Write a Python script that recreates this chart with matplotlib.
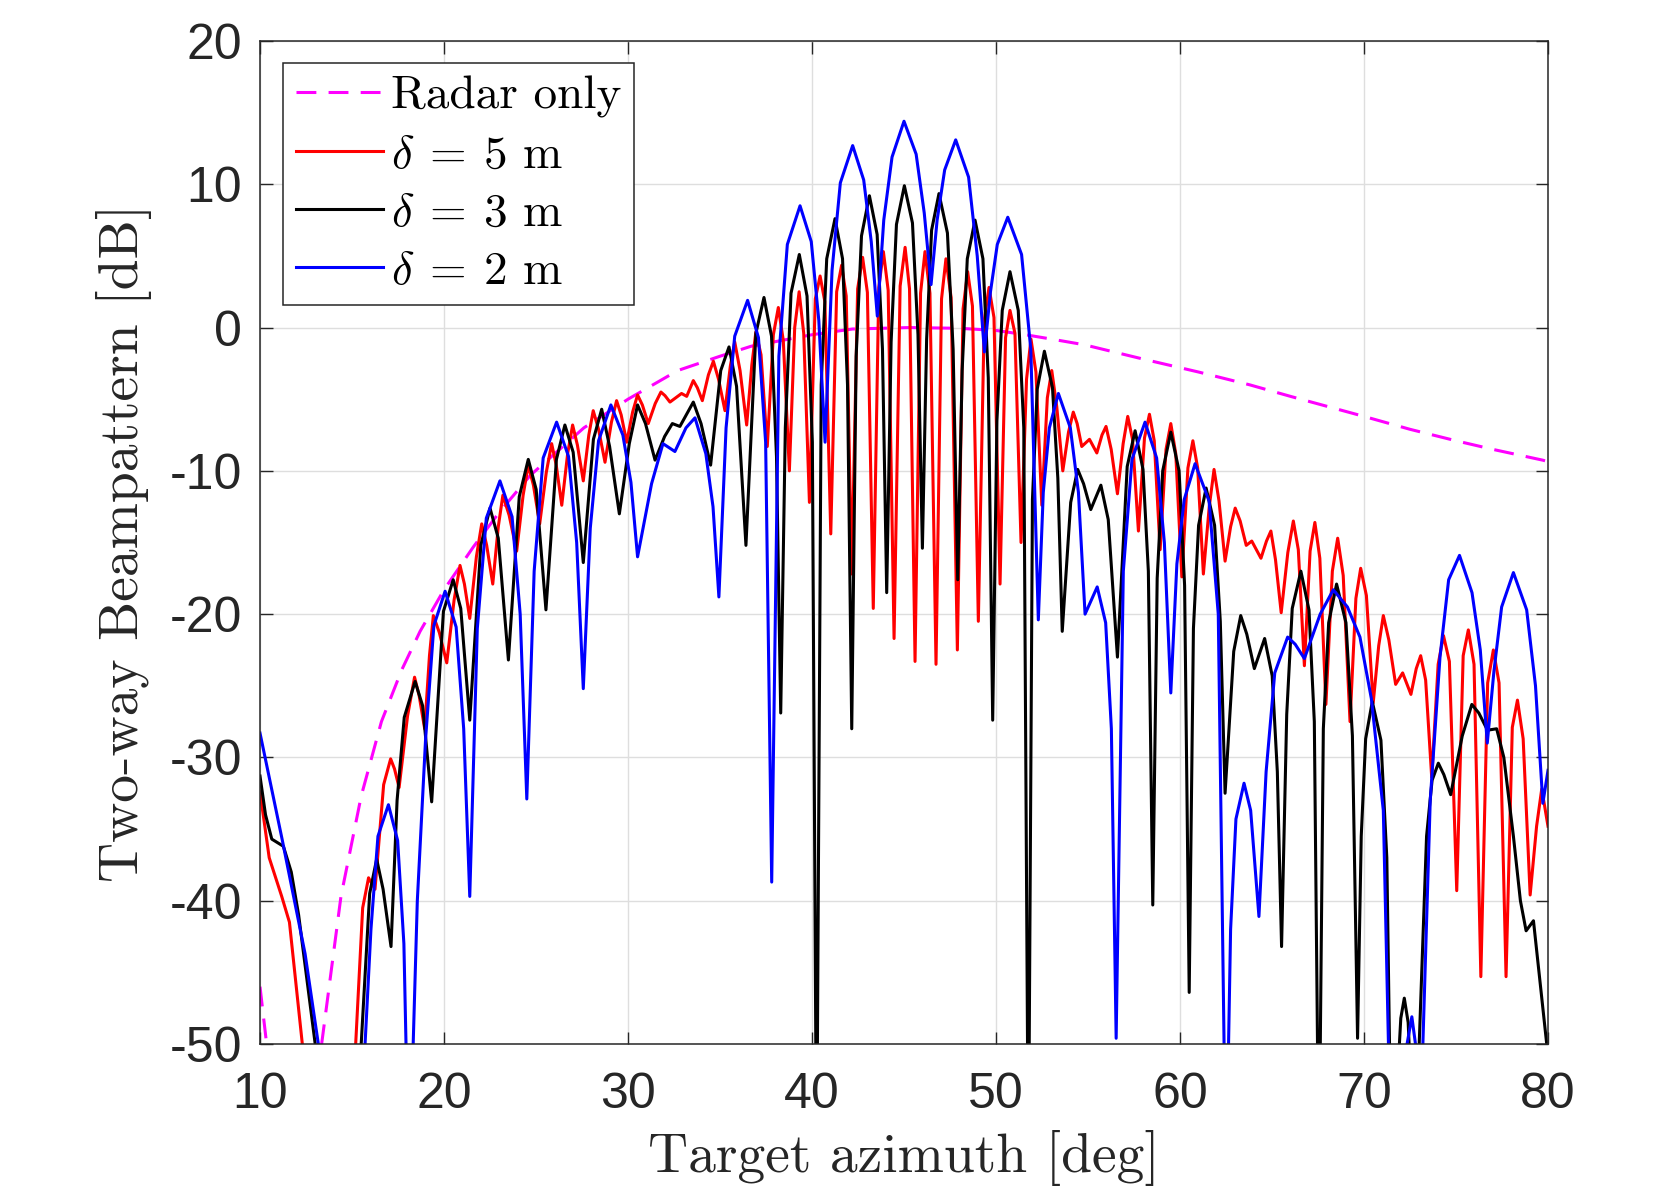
import matplotlib
matplotlib.use("Agg")
import matplotlib.pyplot as plt

# ---------------- data ----------------
radar_x = [10.0, 10.36, 10.8, 13.0, 13.35, 14.4, 15.5, 16.6, 17.7, 18.7, 20.0, 21.6, 23.0,
           24.7, 27.6, 30.0, 32.7, 35.0, 36.7, 40.0, 42.2, 45.3, 48.0, 50.0, 51.6, 53.0, 54.8,
           58.0, 61.0, 63.8, 66.0, 68.0, 70.0, 72.5, 75.0, 77.0, 79.7, 80.0]
radar_y = [-46.0, -50.0, -60.0, -60.0, -50.0, -39.7, -32.7, -27.5, -23.9, -21.2, -18.3, -15.3, -12.9,
           -10.3, -7.0, -5.0, -3.0, -2.0, -1.3, -0.5, -0.1, 0.0, -0.05, -0.2, -0.5, -0.8, -1.2,
           -2.2, -3.1, -4.0, -4.8, -5.5, -6.2, -7.1, -7.9, -8.5, -9.25, -9.35]

red_x = [10.0, 10.5, 11.18, 11.6, 12.3, 12.6, 15.0, 15.2, 15.58, 15.9, 16.25, 16.72, 17.1, 17.31,
         17.56, 18.02, 18.4, 18.65, 18.95, 19.21, 19.42, 19.75, 20.15, 20.55, 20.87, 21.11, 21.4,
         21.76, 22.05, 22.32, 22.65, 22.95, 23.2, 23.54, 23.95, 24.3, 24.58, 24.86, 25.2, 25.56,
         25.85, 26.1, 26.4, 26.72, 26.99, 27.25, 27.57, 27.87, 28.11, 28.4, 28.75, 29.1, 29.38,
         29.63, 29.93, 30.25, 30.52, 30.78, 31.1, 31.48, 31.79, 32.01, 32.28, 32.91, 33.19, 33.55,
         33.77, 34.04, 34.37, 34.64, 34.92, 35.27, 35.56, 35.8, 36.09, 36.45, 36.73, 36.95, 37.23,
         37.57, 37.9, 38.17, 38.44, 38.77, 39.06, 39.3, 39.55, 39.86, 40.18, 40.44, 40.7, 41.02,
         41.34, 41.61, 41.86, 42.16, 42.48, 42.75, 43.01, 43.33, 43.63, 43.88, 44.14, 44.46, 44.79,
         45.06, 45.3, 45.6, 45.9, 46.14, 46.41, 46.74, 47.04, 47.28, 47.56, 47.9, 48.21, 48.46,
         48.72, 49.04, 49.36, 49.62, 49.89, 50.22, 50.52, 50.76, 51.03, 51.36, 51.66, 51.9, 52.17,
         52.49, 52.79, 53.03, 53.3, 53.63, 53.94, 54.2, 54.41, 54.66, 55.08, 55.48, 55.76, 55.98,
         56.26, 56.6, 56.91, 57.16, 57.42, 57.74, 58.07, 58.34, 58.6, 58.92, 59.24, 59.5, 59.77,
         60.1, 60.43, 60.7, 60.96, 61.27, 61.59, 61.85, 62.12, 62.45, 62.75, 63.0, 63.27, 63.6,
         63.9, 64.4, 64.7, 64.94, 65.19, 65.5, 65.86, 66.16, 66.43, 66.76, 67.07, 67.33, 67.6,
         67.93, 68.28, 68.57, 68.87, 69.24, 69.56, 69.82, 70.13, 70.5, 70.8, 71.05, 71.35, 71.72,
         72.1, 72.55, 72.84, 73.08, 73.35, 73.68, 74.03, 74.32, 74.64, 75.04, 75.39, 75.67, 75.98,
         76.35, 76.72, 77.03, 77.34, 77.72, 78.06, 78.34, 78.65, 79.03, 79.38, 79.66, 80.0]
red_y = [-32.4, -37.0, -39.7, -41.5, -50.0, -60.0, -60.0, -50.0, -40.5, -38.4, -39.2, -31.9, -30.1, -30.8,
         -32.1, -27.1, -24.4, -25.7, -28.0, -22.9, -20.1, -21.3, -23.4, -19.0, -16.6, -17.9, -20.3,
         -16.0, -13.7, -15.2, -17.9, -13.9, -11.7, -13.1, -15.6, -11.7, -9.6, -11.0, -13.7, -10.1,
         -8.1, -9.6, -12.4, -8.8, -6.8, -8.2, -10.7, -7.5, -5.8, -7.1, -9.4, -6.6, -5.1,
         -6.1, -8.0, -5.9, -4.7, -5.4, -6.7, -5.3, -4.5, -4.75, -5.2, -4.6, -4.8, -3.7,
         -4.2, -5.1, -3.3, -2.35, -3.6, -5.8, -2.7, -1.0, -3.0, -6.8, -2.6, -0.3, -1.9,
         -8.3, -0.5, 1.4, -0.9, -10.0, 0.0, 2.5, -0.4, -12.2, 2.0, 3.6, 1.8, -14.4,
         2.5, 4.35, 2.2, -17.2, 2.7, 4.9, 2.45, -19.6, 2.8, 5.3, 2.6, -21.7, 2.9,
         5.6, 2.7, -23.3, 2.4, 5.3, 2.4, -23.5, 2.0, 4.8, 2.1, -22.5, 1.3, 3.9,
         1.5, -20.5, 0.5, 2.8, 0.7, -17.9, -0.7, 1.2, -0.4, -15.0, -3.6, -0.8, -3.1,
         -12.4, -4.9, -3.0, -5.5, -10.0, -7.3, -5.9, -6.7, -8.3, -7.8, -8.75, -7.5, -6.9,
         -8.5, -11.6, -8.1, -6.2, -7.8, -14.2, -7.7, -6.05, -7.9, -15.5, -8.5, -6.7, -8.8,
         -17.4, -9.8, -7.9, -9.8, -17.2, -12.5, -9.9, -12.1, -16.3, -13.9, -12.6, -13.5, -15.2,
         -14.9, -16.1, -14.9, -14.2, -16.2, -19.9, -15.7, -13.5, -15.5, -23.6, -15.6, -13.6, -16.1,
         -26.3, -17.0, -14.7, -17.3, -27.5, -18.9, -16.8, -18.7, -26.2, -22.2, -20.1, -21.8, -24.9,
         -24.1, -25.6, -23.8, -22.9, -24.6, -31.4, -23.5, -21.5, -23.3, -39.3, -22.9, -21.1, -23.5,
         -45.3, -24.8, -22.5, -24.8, -45.3, -27.9, -26.0, -28.7, -39.6, -34.8, -32.2, -34.8]

black_x = [10.0, 10.3, 10.64, 11.27, 11.7, 12.1, 13.0, 13.5, 15.2, 15.5, 15.96, 16.34, 16.69, 17.12,
           17.45, 17.84, 18.43, 18.84, 19.33, 19.97, 20.5, 20.91, 21.4, 22.0, 22.5, 22.95, 23.5,
           24.09, 24.58, 25.01, 25.54, 26.11, 26.57, 27.02, 27.57, 28.12, 28.57, 29.0, 29.53, 30.07,
           30.52, 30.95, 31.47, 31.99, 32.41, 32.82, 33.55, 33.97, 34.49, 35.04, 35.49, 35.9, 36.41,
           36.95, 37.39, 37.8, 38.07, 38.3, 38.55, 38.86, 39.31, 39.73, 40.02, 40.25, 40.5, 40.8,
           41.25, 41.66, 41.93, 42.16, 42.4, 42.69, 43.12, 43.54, 43.83, 44.06, 44.3, 44.59, 45.02,
           45.46, 45.76, 46.0, 46.23, 46.5, 46.9, 47.36, 47.67, 47.92, 48.16, 48.44, 48.86, 49.29,
           49.58, 49.82, 50.05, 50.34, 50.76, 51.21, 51.51, 51.76, 51.98, 52.24, 52.63, 53.07, 53.36,
           53.6, 54.06, 54.44, 54.76, 55.15, 55.7, 56.1, 56.6, 57.13, 57.56, 57.99, 58.28, 58.52,
           58.76, 59.06, 59.5, 59.95, 60.25, 60.5, 60.73, 61.01, 61.42, 61.88, 62.19, 62.45, 62.92,
           63.3, 63.63, 64.04, 64.6, 65.01, 65.29, 65.52, 65.8, 66.1, 66.57, 67.01, 67.3, 67.55,
           67.79, 68.08, 68.51, 69.02, 69.37, 69.65, 69.85, 70.09, 70.45, 70.92, 71.24, 71.5, 72.0,
           72.19, 72.4, 72.8, 73.0, 73.4, 73.7, 74.04, 74.34, 74.71, 75.34, 75.86, 76.24, 76.71,
           77.21, 77.6, 78.12, 78.5, 78.81, 79.21, 79.93, 80.0]
black_y = [-31.3, -34.0, -35.7, -36.2, -38.0, -41.0, -50.0, -60.0, -60.0, -50.0, -39.5, -37.1, -39.2, -43.2,
           -33.0, -27.2, -24.7, -26.4, -33.1, -19.8, -17.6, -19.6, -27.4, -15.2, -12.6, -14.7, -23.2,
           -11.8, -9.2, -11.3, -19.7, -9.2, -6.8, -8.7, -16.4, -7.8, -5.7, -8.3, -13.0, -8.1,
           -5.4, -6.7, -9.25, -7.6, -6.7, -6.9, -5.2, -6.7, -9.6, -3.0, -1.35, -4.1, -15.2,
           -0.4, 2.1, -0.6, -9.0, -26.9, -7.0, 2.4, 5.1, 2.2, -8.0, -60.0, -4.0, 4.8,
           7.6, 4.8, -4.0, -28.0, -2.0, 6.4, 9.2, 6.5, -1.5, -18.5, -1.0, 7.2, 9.9,
           7.3, -0.5, -15.4, -0.8, 6.8, 9.35, 6.6, -1.5, -17.6, -3.0, 4.8, 7.5, 4.8,
           -3.5, -27.4, -6.5, 1.2, 3.9, 1.2, -7.0, -60.0, -12.0, -4.3, -1.65, -4.2, -10.5,
           -21.2, -12.2, -9.9, -10.9, -12.7, -11.0, -13.4, -23.0, -9.7, -7.2, -9.9, -17.0, -40.3,
           -17.5, -10.0, -7.3, -10.0, -18.0, -46.4, -21.0, -13.8, -11.2, -13.8, -20.5, -32.5, -22.6,
           -20.1, -21.4, -23.8, -21.7, -24.3, -31.0, -43.2, -27.0, -19.6, -17.0, -19.7, -27.5, -60.0,
           -28.0, -20.6, -17.9, -20.6, -28.5, -49.6, -35.5, -28.7, -26.1, -28.8, -37.0, -60.0, -48.2,
           -46.8, -48.5, -60.0, -50.0, -35.5, -31.6, -30.4, -31.2, -32.6, -28.5, -26.3, -26.9, -28.1,
           -28.0, -30.0, -35.5, -40.0, -42.1, -41.4, -50.0, -52.0]

blue_x = [10.0, 11.2, 12.45, 13.17, 13.6, 15.3, 15.71, 16.03, 16.41, 16.98, 17.48, 17.82, 18.1, 18.55,
          19.0, 19.45, 20.06, 20.66, 21.07, 21.4, 21.81, 22.3, 23.04, 23.7, 24.14, 24.5, 24.9,
          25.39, 26.12, 26.77, 27.21, 27.57, 27.95, 28.4, 29.07, 29.72, 30.16, 30.52, 31.28, 31.9,
          32.55, 33.15, 33.64, 34.23, 34.62, 34.94, 35.33, 35.8, 36.5, 37.09, 37.48, 37.81, 38.2,
          38.66, 39.35, 39.96, 40.37, 40.71, 41.09, 41.54, 42.21, 42.81, 43.22, 43.55, 43.9, 44.35,
          45.0, 45.66, 46.1, 46.47, 46.8, 47.21, 47.81, 48.51, 48.98, 49.37, 49.7, 50.07, 50.64,
          51.39, 51.89, 52.3, 52.57, 52.9, 53.39, 54.04, 54.48, 54.84, 55.5, 55.96, 56.27, 56.53,
          56.92, 57.39, 58.1, 58.73, 59.15, 59.5, 59.83, 60.23, 60.82, 61.58, 62.08, 62.5, 62.75,
          63.04, 63.48, 63.84, 64.29, 64.68, 65.15, 65.85, 66.26, 66.76, 67.62, 68.33, 69.1, 69.78,
          70.4, 71.05, 71.5, 72.3, 72.6, 72.85, 72.95, 73.2, 73.6, 74.13, 74.6, 75.19, 75.87,
          76.32, 76.7, 77.06, 77.48, 78.12, 78.84, 79.32, 79.72, 80.0]
blue_y = [-28.3, -35.7, -43.7, -50.0, -60.0, -60.0, -50.0, -42.0, -35.5, -33.3, -35.8, -43.0, -60.0, -40.0,
          -28.7, -20.8, -18.4, -20.9, -28.0, -39.7, -21.0, -13.3, -10.7, -13.2, -20.0, -32.9, -17.0,
          -9.1, -6.6, -9.0, -15.0, -25.2, -14.0, -7.9, -5.4, -7.5, -10.8, -16.0, -10.9, -8.1,
          -8.65, -7.0, -6.3, -8.8, -12.5, -18.8, -7.0, -0.6, 1.9, -0.7, -8.0, -38.7, -2.0,
          5.8, 8.5, 6.0, 0.5, -8.0, 4.0, 10.1, 12.7, 10.3, 6.0, 0.8, 7.5, 11.9,
          14.4, 12.1, 8.0, 3.0, 7.5, 11.0, 13.1, 10.5, 5.0, -1.7, 2.5, 5.8, 7.7,
          5.1, -1.5, -20.4, -11.5, -7.0, -4.6, -7.0, -11.5, -20.0, -18.1, -20.6, -28.0, -49.6,
          -17.0, -9.2, -6.6, -9.1, -15.0, -25.5, -16.5, -12.0, -9.5, -12.1, -20.0, -60.0, -42.0,
          -34.3, -31.8, -33.7, -41.1, -31.0, -24.1, -21.6, -22.1, -23.1, -20.0, -18.3, -19.5, -21.6,
          -25.9, -33.7, -60.0, -50.3, -48.1, -50.5, -60.0, -50.0, -33.0, -23.0, -17.6, -15.9, -18.5,
          -22.5, -29.0, -24.0, -19.5, -17.1, -19.7, -25.0, -33.2, -30.9]

xticks = [10, 20, 30, 40, 50, 60, 70, 80]
yticks = [-50, -40, -30, -20, -10, 0, 10, 20]
labels = ["Radar only", r"$\delta\:=\:5$ m", r"$\delta\:=\:3$ m", r"$\delta\:=\:2$ m"]

# ---------------- figure ----------------
plt.rcParams['mathtext.fontset'] = 'cm'
plt.rcParams['axes.unicode_minus'] = False

fig = plt.figure(figsize=(16.64, 11.94), dpi=100)
ax = fig.add_axes([260 / 1664, 1 - 1044 / 1194, 1288 / 1664, 1003 / 1194])

lw = 2.2
ax.plot(radar_x, radar_y, color=(1, 0, 1), lw=lw, dashes=(6.5, 4.0), label=labels[0])
ax.plot(red_x, red_y, color=(1, 0, 0), lw=lw, label=labels[1])
ax.plot(black_x, black_y, color='black', lw=lw, label=labels[2])
ax.plot(blue_x, blue_y, color=(0, 0, 1), lw=lw, label=labels[3])

ax.set_xlim(10, 80)
ax.set_ylim(-50, 20)
ax.set_xticks(xticks)
ax.set_yticks(yticks)
ax.set_xticklabels([str(v) for v in xticks])
ax.set_yticklabels([str(v) for v in yticks])

ax.grid(True, color='#dedede', lw=1.0)
ax.set_axisbelow(True)
for s in ax.spines.values():
    s.set_color('#262626')
    s.set_linewidth(1.1)
ax.tick_params(direction='in', length=9, width=1.0, colors='#262626',
               top=True, right=True, labelsize=36)
ax.tick_params(axis='y', pad=13)
ax.tick_params(axis='x', pad=20)
for t in ax.get_xticklabels() + ax.get_yticklabels():
    t.set_fontfamily('Liberation Sans')
    t.set_color('#262626')

ax.set_xlabel("Target azimuth [deg]", fontfamily='cmr10', fontsize=40, color='#262626')
ax.set_ylabel("Two-way Beampattern [dB]", fontfamily='cmr10', fontsize=40, color='#262626')
ax.xaxis.label.set(va='baseline', ha='center')
ax.xaxis.set_label_coords(0.5, -0.1277)
ax.yaxis.label.set(rotation_mode='anchor', va='baseline', ha='center')
ax.yaxis.set_label_coords(-0.0947, 0.5)

leg = ax.legend(loc='upper left', bbox_to_anchor=(0.0179, 0.978), borderaxespad=0,
                prop={'family': 'cmr10', 'size': 34}, handlelength=1.85, handletextpad=0.17,
                labelspacing=0.34, borderpad=0.27, fancybox=False, framealpha=1)
leg.get_frame().set_edgecolor('#262626')
leg.get_frame().set_linewidth(1.1)

fig.savefig("out.png", dpi=100)
